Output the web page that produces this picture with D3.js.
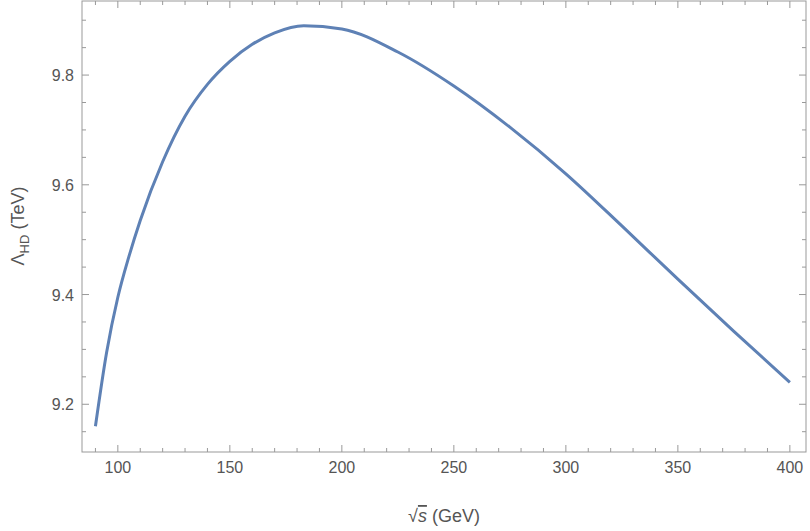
<!DOCTYPE html>
<html>
<head>
<meta charset="UTF-8">
<script src="https://d3js.org/d3.v7.min.js"></script>
<style>
  body { margin: 0; background: #fff; }
  text { font-family: "Liberation Sans", Arial, sans-serif; fill: #555; }
</style>
</head>
<body>
<svg width="810" height="531"></svg>
<script>
const sqrtS  = [90, 95, 100, 105, 110, 120, 130, 140, 150, 160, 170, 183, 200, 225, 250, 275, 300, 325, 350, 375, 400];
const lambda = [9.16, 9.295, 9.395, 9.47, 9.535, 9.642, 9.725, 9.783, 9.825, 9.856, 9.877, 9.890, 9.884, 9.842, 9.780, 9.705, 9.620, 9.525, 9.428, 9.333, 9.240];
const xTicks = [100, 150, 200, 250, 300, 350, 400];
const yTicks = [9.2, 9.4, 9.6, 9.8];

const svg = d3.select("svg");
const L = 82, R = 806, T = 1, B = 452;
const x = d3.scaleLinear().domain([84, 407.2]).range([L, R]);
const y = d3.scaleLinear().domain([9.113, 9.935]).range([B, T]);

// frame
svg.append("rect").attr("x", L).attr("y", T).attr("width", R - L).attr("height", B - T)
  .attr("fill", "none").attr("stroke", "#999").attr("stroke-width", 1);

const g = svg.append("g").attr("stroke", "#999").attr("stroke-width", 1);
d3.range(90, 401, 10).forEach(v => {
  const major = v % 50 === 0, len = major ? 7 : 4;
  g.append("line").attr("x1", x(v)).attr("x2", x(v)).attr("y1", B).attr("y2", B - len);
  g.append("line").attr("x1", x(v)).attr("x2", x(v)).attr("y1", T).attr("y2", T + len);
});
d3.range(9.15, 9.93, 0.05).forEach(v => {
  const major = Math.abs(Math.round(v * 5) - v * 5) < 1e-6, len = major ? 7 : 4;
  g.append("line").attr("y1", y(v)).attr("y2", y(v)).attr("x1", L).attr("x2", L + len);
  g.append("line").attr("y1", y(v)).attr("y2", y(v)).attr("x1", R).attr("x2", R - len);
});

svg.selectAll(".xt").data(xTicks).enter().append("text")
  .attr("x", d => x(d)).attr("y", B + 21).attr("text-anchor", "middle")
  .attr("font-size", 16).text(d => d);
svg.selectAll(".yt").data(yTicks).enter().append("text")
  .attr("x", L - 8).attr("y", d => y(d) + 6).attr("text-anchor", "end")
  .attr("font-size", 16).text(d => d.toFixed(1));

// curve
svg.append("path").datum(sqrtS.map((s, i) => [s, lambda[i]]))
  .attr("fill", "none").attr("stroke", "#5E81B5").attr("stroke-width", 3)
  .attr("d", d3.line().x(d => x(d[0])).y(d => y(d[1])).curve(d3.curveMonotoneX));

// axis labels
const xl = svg.append("text").attr("x", 444).attr("y", 522).attr("text-anchor", "middle").attr("font-size", 18);
xl.append("tspan").text("√");
xl.append("tspan").attr("font-style", "italic").attr("text-decoration", "overline").text("s");
xl.append("tspan").text(" (GeV)");

const yl = svg.append("text").attr("transform", "translate(24,226) rotate(-90)")
  .attr("text-anchor", "middle").attr("font-size", 18);
yl.append("tspan").text("Λ");
yl.append("tspan").attr("font-size", 13).attr("dy", 5).text("HD");
yl.append("tspan").attr("dy", -5).text(" (TeV)");
</script>
</body>
</html>
